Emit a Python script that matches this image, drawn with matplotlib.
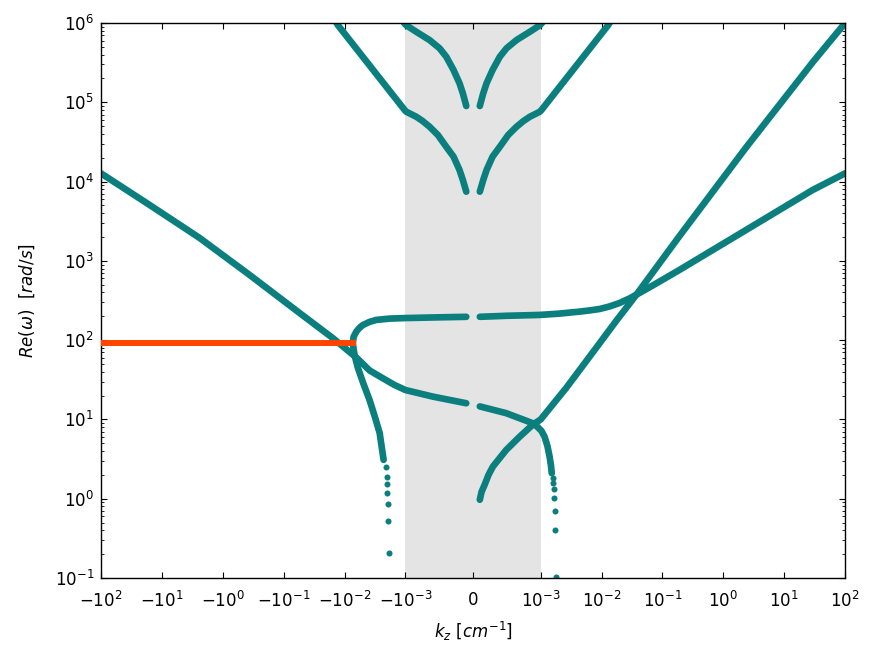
#!/usr/bin/env python3
"""
Dispersion branches Re(omega) vs k_z on a symlog k axis.
Writes out.png in the current folder.
"""
import matplotlib
matplotlib.use("Agg")
import matplotlib.pyplot as plt
from matplotlib.ticker import NullLocator

TEAL = "#0b7f7e"
ORANGE = "orangered"
SHADE = "#e4e4e4"

# k_z [cm^-1] and Re(omega) [rad/s]
# branch A: left sqrt-like branch, down through the shaded band
A_LEFT_K = [-100, -15.9, -2.40, -0.362, -0.0547, -0.0157, -6.3e-3, -3.88e-3, -2.34e-3, -1.51e-3, -1.0e-3, -5.94e-4, -1.0e-4]
A_LEFT_W = [1.27e4, 5070, 1945, 664, 220, 106.7, 59.7, 41.5, 33, 27.2, 23.5, 19.4, 16.0]
A_RIGHT_K = [1.0e-4, 4.9e-4, 8.84e-4, 9.53e-4, 1.03e-3, 1.156e-3, 1.29e-3, 1.40e-3, 1.48e-3, 1.52e-3]
A_RIGHT_W = [14.6, 12.0, 8.95, 8.04, 7.16, 6.07, 4.63, 3.40, 2.59, 2.10]
A_DOTS_K = [1.58e-3, 1.62e-3, 1.64e-3, 1.67e-3, 1.71e-3, 1.75e-3, 1.80e-3]
A_DOTS_W = [1.82, 1.57, 1.32, 1.01, 0.71, 0.40, 0.104]

# branch B: loop near -7e-3, flat ~200 across the band, sqrt-like on the right
B_DOTS_K = [-1.89e-3, -1.90e-3, -1.92e-3, -1.97e-3, -1.99e-3, -2.04e-3, -2.06e-3]
B_DOTS_W = [0.207, 0.52, 0.86, 1.18, 1.54, 1.88, 2.52]
B_LEFT_K = [-2.28e-3, -2.65e-3, -3.21e-3, -3.88e-3, -4.95e-3, -6.1e-3, -6.84e-3, -7.1e-3, -7.29e-3,
            -7.1e-3, -6.41e-3, -5.7e-3, -5.0e-3, -3.88e-3, -3.01e-3, -1.82e-3, -1.0e-3, -5.0e-4, -1.0e-4]
B_LEFT_W = [3.09, 6.76, 11.1, 17.6, 28.9, 45.9, 65, 77.4, 91,
            110, 128, 142.6, 155, 170, 180, 187, 190, 194, 197]
B_RIGHT_K = [1.0e-4, 5.0e-4, 9.83e-4, 2.0e-3, 4.34e-3, 6.34e-3, 9.25e-3, 1.35e-2, 1.97e-2,
             2.88e-2, 4.20e-2, 7.4e-2, 0.19, 2.37, 29.4, 100]
B_RIGHT_W = [197, 203, 208, 216, 229, 237, 247, 266, 294,
             336, 394, 504, 768, 2455, 7840, 1.27e4]

# branch C: steep branch rising from ~1 at small k
C_K = [1.0e-4, 1.26e-4, 1.70e-4, 2.29e-4, 2.93e-4, 4.9e-4, 6.87e-4, 8.84e-4, 1.0e-3,
       2.63e-3, 9.25e-3, 1.74e-2, 3.71e-2, 0.19, 2.37, 29.4, 100]
C_W = [0.97, 1.22, 1.49, 2.0, 2.54, 4.12, 6.03, 8.6, 10.0,
       25, 91, 175, 372, 2050, 2.7e4, 3.2e5, 1.0e6]

# branch D: light-like line, kinked at the band edges
D_LEFT_K = [-1.4e-2, -1.285e-2, -1.03e-3, -9.87e-4, -8.4e-4, -7.46e-4, -6.43e-4, -5.2e-4, -3.96e-4, -2.88e-4, -2.0e-4, -1.51e-4, -1.0e-4]
D_LEFT_W = [1.05e6, 9.4e5, 8.0e4, 7.6e4, 6.58e4, 5.81e4, 4.92e4, 3.87e4, 2.75e4, 2.06e4, 1.40e4, 1.05e4, 7.46e3]
D_RIGHT_K = [1.0e-4, 1.51e-4, 2.0e-4, 2.88e-4, 3.96e-4, 5.2e-4, 6.43e-4, 7.46e-4, 8.4e-4, 9.87e-4, 1.03e-3, 1.285e-2, 1.4e-2]
D_RIGHT_W = [7.46e3, 1.05e4, 1.40e4, 2.06e4, 2.75e4, 3.87e4, 4.92e4, 5.81e4, 6.58e4, 7.6e4, 8.0e4, 9.4e5, 1.05e6]

# branch E: upper branch inside the band
E_LEFT_K = [-1.1e-3, -9.9e-4, -8.4e-4, -6.43e-4, -4.95e-4, -3.96e-4, -2.88e-4, -2.0e-4, -1.51e-4, -1.0e-4]
E_LEFT_W = [1.05e6, 9.4e5, 7.76e5, 6.1e5, 4.8e5, 3.76e5, 2.55e5, 1.74e5, 1.3e5, 8.98e4]
E_RIGHT_K = [1.0e-4, 1.51e-4, 2.0e-4, 2.88e-4, 3.96e-4, 4.95e-4, 6.43e-4, 8.4e-4, 9.9e-4, 1.1e-3]
E_RIGHT_W = [8.98e4, 1.3e5, 1.74e5, 2.55e5, 3.76e5, 4.8e5, 6.1e5, 7.76e5, 9.4e5, 1.05e6]

# orange level
ORANGE_K = [-100, -6.4e-3]
ORANGE_W = [91, 91]

BAND = (-1e-3, 1e-3)
XTICKS = [-1e2, -1e1, -1e0, -1e-1, -1e-2, -1e-3, 0, 1e-3, 1e-2, 1e-1, 1e0, 1e1, 1e2]

plt.rcParams.update({
    "font.family": "DejaVu Sans",
    "font.size": 12,
    "mathtext.fontset": "dejavusans",
    "xtick.direction": "in",
    "ytick.direction": "in",
    "xtick.top": True,
    "ytick.right": True,
    "xtick.major.size": 4.5,
    "ytick.major.size": 4.5,
    "ytick.minor.size": 2.5,
    "xtick.major.width": 0.8,
    "ytick.major.width": 0.8,
    "ytick.minor.width": 0.6,
    "xtick.major.pad": 9,
    "ytick.major.pad": 5,
    "axes.linewidth": 1.0,
})

fig = plt.figure(figsize=(8.8, 6.56), dpi=100)
ax = fig.add_axes([0.1148, 0.1189, 0.8455, 0.8460])

ax.axvspan(*BAND, color=SHADE, lw=0, zorder=0)

lines = [
    (A_LEFT_K, A_LEFT_W), (A_RIGHT_K, A_RIGHT_W),
    (B_LEFT_K, B_LEFT_W), (B_RIGHT_K, B_RIGHT_W),
    (C_K, C_W),
    (D_LEFT_K, D_LEFT_W), (D_RIGHT_K, D_RIGHT_W),
    (E_LEFT_K, E_LEFT_W), (E_RIGHT_K, E_RIGHT_W),
]
for k, w in lines:
    ax.plot(k, w, color=TEAL, lw=4.8, solid_capstyle="round",
            solid_joinstyle="round", zorder=2)

# sparse points near the cutoffs
for k, w in [(A_DOTS_K, A_DOTS_W), (B_DOTS_K, B_DOTS_W)]:
    ax.scatter(k, w, s=19, color=TEAL, lw=0, zorder=2)

ax.plot(ORANGE_K, ORANGE_W, color=ORANGE, lw=4.3, solid_capstyle="butt", zorder=3)

ax.set_xscale("symlog", linthresh=1e-3)
ax.set_yscale("log")
ax.set_xlim(-100, 100)
ax.set_ylim(0.1, 1e6)
ax.set_xticks(XTICKS)
ax.xaxis.set_minor_locator(NullLocator())

ax.set_xlabel(r"$k_z\ [cm^{-1}]$", labelpad=7)
ax.set_ylabel(r"$Re(\omega)\ \ [rad/s]$", labelpad=13)

fig.savefig("out.png", dpi=100)
